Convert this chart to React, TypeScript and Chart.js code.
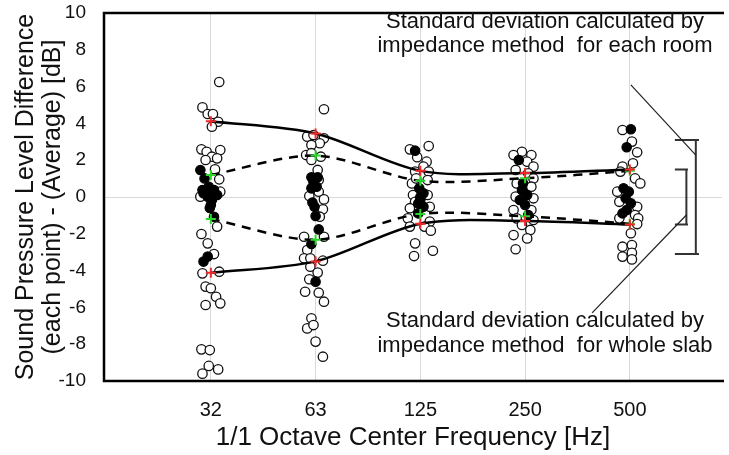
import React, { useEffect, useRef } from 'react';
import { Chart, registerables } from 'chart.js';

Chart.register(...registerables);

const FONT = '"Liberation Sans", Arial, Helvetica, sans-serif';

// Octave bands (x categories)
const categories = ['32', '63', '125', '250', '500'];
const yMin = -10;
const yMax = 10;
const yStep = 2;

// Standard deviation by impedance method for each room (solid) and whole slab (dashed)
const roomSdUpper = [4.12, 3.45, 1.42, 1.3, 1.5];
const roomSdLower = [-4.12, -3.5, -1.45, -1.3, -1.5];
const slabSdUpper = [1.2, 2.25, 0.88, 1.02, 1.42];
const slabSdLower = [-1.2, -2.32, -0.92, -1.05, -1.45];

// Overall standard deviations shown as brackets on the right
const roomSdOverall = 3.1;
const slabSdOverall = 1.5;

// Measured points: [jitter in band units, dB difference]
const open32 = [[-0.08, 4.87], [-0.03, 4.51], [0.02, 4.51], [0.07, 4.09], [0.01, 3.82], [0.08, 6.25], [-0.09, 2.59], [-0.04, 2.46], [0.09, 2.55], [0.01, 2.19], [-0.05, 2.01], [0.06, 2.1], [0.04, 1.5], [0.08, 0.96], [0.09, 0.29], [-0.1, 0.02], [0.06, -1.61], [-0.09, -2.01], [-0.03, -2.52], [0.03, -3.1], [0.08, -4.06], [-0.08, -4.15], [-0.05, -4.87], [0.0, -4.96], [0.05, -5.42], [0.09, -5.78], [-0.05, -5.87], [-0.09, -8.28], [-0.01, -8.32], [-0.02, -9.18], [0.07, -9.37], [-0.08, -9.6]];
const filled32 = [[-0.1, 1.47], [-0.06, 1.01], [-0.08, 0.38], [-0.02, 0.56], [0.03, 0.38], [-0.03, 0.02], [0.01, -0.16], [-0.07, 0.2], [0.0, -0.43], [0.06, 0.11], [-0.01, -0.6], [0.03, -1.07], [-0.07, -3.51], [-0.03, -3.24]];
const open63 = [[0.08, 4.77], [-0.08, 3.28], [-0.02, 3.37], [0.08, 3.19], [0.04, 2.92], [-0.04, 2.83], [-0.09, 2.28], [-0.04, 2.38], [0.05, 2.19], [-0.04, 2.01], [0.02, 1.47], [0.03, 0.92], [-0.06, 0.05], [0.03, 0.29], [0.08, -0.13], [0.07, -0.67], [0.04, -1.07], [0.08, -2.16], [-0.11, -2.16], [-0.08, -2.88], [-0.11, -3.33], [-0.05, -3.33], [0.07, -3.46], [-0.05, -3.79], [0.02, -4.11], [-0.06, -4.47], [-0.1, -5.15], [0.03, -5.2], [0.08, -5.69], [-0.04, -6.59], [-0.08, -7.14], [-0.02, -6.96], [0.0, -7.86], [0.07, -8.68]];
const filled63 = [[-0.04, 1.07], [0.02, 1.07], [-0.02, 0.8], [-0.04, 0.47], [0.01, 0.56], [-0.03, -0.3], [-0.01, -0.53], [0.0, -1.03], [0.03, -1.76], [-0.04, -2.55], [0.0, -4.6]];
const open125 = [[-0.1, 2.59], [-0.03, 2.16], [0.08, 2.77], [0.06, 1.92], [0.03, 1.65], [-0.05, 1.38], [0.08, 1.38], [-0.08, 0.74], [0.07, 0.92], [-0.04, 1.01], [-0.07, 0.11], [0.07, 0.11], [-0.05, -0.26], [0.09, -0.53], [-0.1, -0.61], [-0.12, -1.16], [0.09, -1.34], [0.04, -1.61], [-0.1, -1.61], [0.1, -1.83], [-0.05, -2.52], [0.12, -2.92], [-0.06, -3.21]];
const filled125 = [[-0.05, 2.52], [-0.01, 0.47], [0.03, 0.2], [0.0, 0.0], [0.0, -0.16], [-0.02, -0.35], [0.03, -0.53], [-0.02, -0.89]];
const open250 = [[-0.03, 2.46], [0.06, 2.28], [-0.11, 2.28], [0.02, 1.92], [0.08, 1.65], [-0.09, 1.47], [0.03, 1.29], [0.08, 1.01], [-0.08, 0.74], [0.06, 0.56], [-0.09, 0.02], [0.08, -0.07], [-0.11, -0.71], [0.06, -0.71], [-0.08, -1.16], [0.08, -1.25], [-0.03, -1.52], [0.05, -1.79], [-0.11, -2.07], [0.02, -2.25], [-0.09, -2.84]];
const filled250 = [[-0.06, 2.01], [-0.02, 0.75], [-0.03, 0.38], [0.02, 0.11], [-0.05, -0.16], [0.0, -0.43], [0.03, -0.98]];
const open500 = [[-0.07, 3.64], [0.02, 3.01], [0.07, 2.43], [0.03, 1.83], [-0.07, 1.65], [-0.09, 1.38], [0.05, 1.01], [0.1, 0.74], [-0.12, 0.29], [-0.1, -0.26], [0.07, -0.53], [0.05, -0.98], [-0.1, -1.16], [0.08, -1.16], [0.07, -1.47], [0.01, -1.97], [-0.07, -2.7], [0.02, -2.61], [-0.07, -3.24], [0.02, -3.03], [0.02, -3.39]];
const filled500 = [[0.01, 3.68], [-0.03, 2.7], [-0.06, 0.47], [-0.01, 0.29], [-0.04, -0.07], [0.01, -0.34], [-0.03, -0.71], [-0.07, -0.89]];

const openSets = [open32, open63, open125, open250, open500];
const filledSets = [filled32, filled63, filled125, filled250, filled500];

const annotationRoom = ['Standard deviation calculated by', 'impedance method  for each room'];
const annotationSlab = ['Standard deviation calculated by', 'impedance method  for whole slab'];

function toPoints(sets: number[][][]) {
  const out: { x: number; y: number }[] = [];
  sets.forEach((set, i) => set.forEach(([dx, v]) => out.push({ x: i + 1 + dx, y: v })));
  return out;
}

function curve(values: number[]) {
  return values.map((v, i) => ({ x: i + 1, y: v }));
}

const overlayPlugin = {
  id: 'overlay',
  afterDraw(chart: any) {
    const { ctx, chartArea } = chart;
    const xs = chart.scales.x;
    const ys = chart.scales.y;
    ctx.save();
    // frame
    ctx.strokeStyle = '#000';
    ctx.lineWidth = 2.5;
    ctx.beginPath();
    ctx.moveTo(chartArea.right + 2, chartArea.top);
    ctx.lineTo(chartArea.left, chartArea.top);
    ctx.lineTo(chartArea.left, chartArea.bottom);
    ctx.lineTo(chartArea.right + 2, chartArea.bottom);
    ctx.stroke();

    // brackets for overall SD
    const bracket = (xv: number, xCapL: number, xCapR: number, sd: number) => {
      const x = xs.getPixelForValue(xv);
      const xl = xs.getPixelForValue(xCapL);
      const xr = xs.getPixelForValue(xCapR);
      const yt = ys.getPixelForValue(sd);
      const yb = ys.getPixelForValue(-sd);
      ctx.strokeStyle = '#333';
      ctx.lineWidth = 2;
      ctx.beginPath();
      ctx.moveTo(xl, yt);
      ctx.lineTo(xr, yt);
      ctx.moveTo(x, yt);
      ctx.lineTo(x, yb);
      ctx.moveTo(xl, yb);
      ctx.lineTo(xr, yb);
      ctx.stroke();
    };
    bracket(5.63, 5.43, 5.66, roomSdOverall);
    bracket(5.54, 5.43, 5.555, slabSdOverall);

    // leader lines
    ctx.strokeStyle = '#222';
    ctx.lineWidth = 1.2;
    ctx.beginPath();
    ctx.moveTo(xs.getPixelForValue(5.01), ys.getPixelForValue(6.09));
    ctx.lineTo(xs.getPixelForValue(5.63), ys.getPixelForValue(2.28));
    ctx.moveTo(xs.getPixelForValue(4.64), ys.getPixelForValue(-6.3));
    ctx.lineTo(xs.getPixelForValue(5.54), ys.getPixelForValue(-0.98));
    ctx.stroke();

    // annotation text
    ctx.fillStyle = '#111';
    ctx.font = `22px ${FONT}`;
    ctx.textAlign = 'center';
    ctx.textBaseline = 'middle';
    const cx = 545;
    ctx.fillText(annotationRoom[0], cx, 22);
    ctx.fillText(annotationRoom[1], cx, 46);
    ctx.fillText(annotationSlab[0], cx, 321);
    ctx.fillText(annotationSlab[1], cx, 346);
    ctx.restore();
  },
};

export default function App() {
  const canvasRef = useRef<HTMLCanvasElement | null>(null);

  useEffect(() => {
    if (!canvasRef.current) return;
    const red = '#f02828';
    const green = '#2bd62b';
    const lineDs = (values: number[], dashed: boolean, mark: string) => ({
      data: curve(values),
      showLine: true,
      borderColor: '#000',
      borderWidth: 2.5,
      borderDash: dashed ? [9, 7] : [],
      tension: 0.3,
      pointStyle: 'cross',
      pointRadius: 5,
      pointBorderColor: mark,
      pointBackgroundColor: mark,
      pointBorderWidth: 2,
      order: 0,
    });
    const chart = new Chart(canvasRef.current, {
      type: 'scatter',
      data: {
        datasets: [
          lineDs(roomSdUpper, false, red),
          lineDs(roomSdLower, false, red),
          lineDs(slabSdUpper, true, green),
          lineDs(slabSdLower, true, green),
          {
            data: toPoints(filledSets),
            pointRadius: 4.7,
            pointBackgroundColor: '#000',
            pointBorderColor: '#000',
            pointBorderWidth: 1.2,
            order: 1,
          },
          {
            data: toPoints(openSets),
            pointRadius: 4.7,
            pointBackgroundColor: '#fff',
            pointBorderColor: '#111',
            pointBorderWidth: 1.3,
            order: 2,
          },
        ] as any,
      },
      options: {
        animation: false,
        responsive: false,
        devicePixelRatio: 1,
        layout: { padding: { top: 13, right: 0, left: 0, bottom: 0 } },
        plugins: { legend: { display: false }, tooltip: { enabled: false } },
        scales: {
          x: {
            type: 'linear',
            min: -0.02,
            max: 5.88,
            afterBuildTicks: (s: any) => {
              s.ticks = categories.map((_, i) => ({ value: i + 1 }));
            },
            afterFit: (s: any) => {
              s.height = 74;
              s.paddingLeft = 0;
              s.paddingRight = 0;
            },
            ticks: {
              autoSkip: false,
              maxRotation: 0,
              padding: 17,
              color: '#111',
              font: { family: FONT, size: 20 },
              callback: (v: any) => categories[Number(v) - 1] ?? '',
            },
            grid: { color: '#d9d9d9', lineWidth: 1, drawTicks: false },
            border: { display: false },
            title: {
              display: true,
              text: '1/1 Octave Center Frequency [Hz]',
              color: '#111',
              font: { family: FONT, size: 26, lineHeight: 1.2 },
              padding: { top: 0, bottom: 2 },
            },
          },
          y: {
            min: yMin,
            max: yMax,
            afterFit: (s: any) => {
              s.width = 104;
              s.paddingTop = 0;
              s.paddingBottom = 0;
            },
            ticks: {
              stepSize: yStep,
              padding: 18,
              color: '#111',
              font: { family: FONT, size: 19 },
            },
            grid: {
              drawTicks: false,
              color: (c: any) => (c.tick && c.tick.value === 0 ? '#d9d9d9' : 'rgba(0,0,0,0)'),
            },
            border: { display: false },
            title: {
              display: true,
              text: ['Sound Pressure Level Difference', '(each point) - (Average) [dB]'],
              color: '#111',
              font: { family: FONT, size: 25, lineHeight: 1.1 },
              padding: { top: 12, bottom: 0 },
            },
          },
        },
      } as any,
      plugins: [overlayPlugin],
    });
    return () => chart.destroy();
  }, []);

  return (
    <div style={{ position: 'fixed', left: 0, top: 0, width: 729, height: 455, background: '#fff' }}>
      <canvas ref={canvasRef} width={729} height={455} />
    </div>
  );
}
